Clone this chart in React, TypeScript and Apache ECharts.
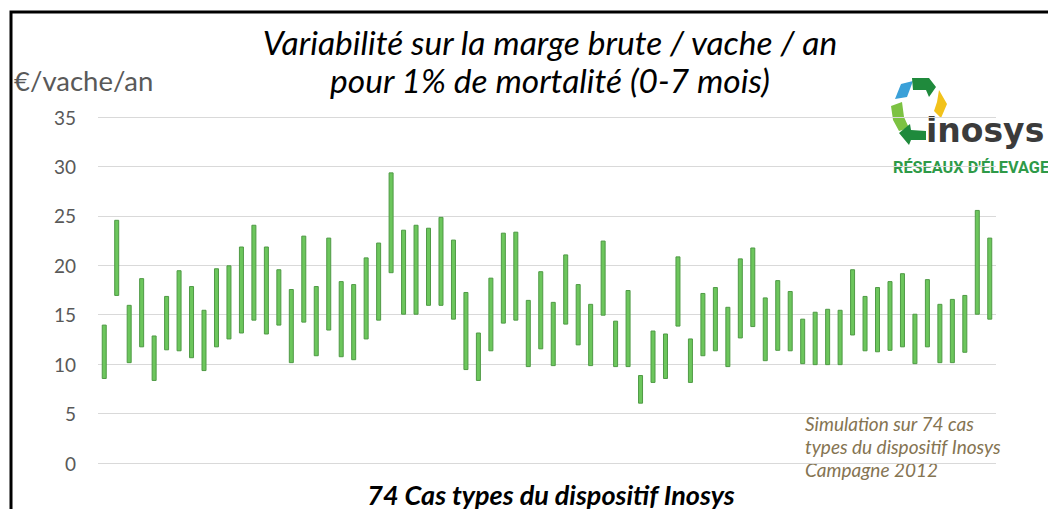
import React, { useEffect, useRef } from "react";
import * as echarts from "echarts";

const yTicks = [0, 5, 10, 15, 20, 25, 30, 35];
const lowValues = [
  8.5, 16.9, 10.1, 11.7, 8.3, 11.4, 11.3, 10.6, 9.3, 11.7,
  12.5, 13.1, 14.4, 13.0, 13.9, 10.1, 14.2, 10.8, 13.4, 10.7,
  10.4, 12.5, 14.4, 19.2, 15.0, 15.0, 15.9, 15.9, 14.5, 9.4,
  8.3, 11.3, 14.1, 14.4, 9.7, 11.5, 9.8, 14.0, 11.9, 9.8,
  14.9, 9.7, 9.7, 6.0, 8.1, 8.5, 13.8, 8.1, 10.8, 11.3,
  9.7, 12.6, 13.75, 10.3, 11.35, 11.3, 10.0, 9.9, 9.9, 9.9,
  12.9, 11.3, 11.2, 11.35, 11.7, 10.0, 11.7, 10.1, 10.1, 11.15,
  15.0, 14.5,
];
const highValues = [
  14.0, 24.6, 16.0, 18.7, 12.9, 16.9, 19.5, 17.9, 15.5, 19.7,
  20.0, 21.9, 24.1, 21.9, 19.6, 17.6, 23.0, 17.9, 22.8, 18.4,
  18.1, 20.8, 22.3, 29.4, 23.6, 24.1, 23.8, 24.9, 22.6, 17.3,
  13.2, 18.75, 23.3, 23.4, 16.5, 19.4, 16.3, 21.1, 18.1, 16.1,
  22.5, 14.4, 17.5, 8.9, 13.4, 13.1, 20.9, 12.6, 17.2, 17.8,
  15.8, 20.7, 21.8, 16.75, 18.5, 17.4, 14.6, 15.3, 15.6, 15.5,
  19.6, 16.9, 17.8, 18.4, 19.2, 15.1, 18.6, 16.1, 16.6, 17.0,
  25.6, 22.8,
];
const categories = lowValues.map((_, i) => "Cas " + (i + 1));
const titleLines = [
  "Variabilité sur la marge brute / vache / an",
  "pour 1% de mortalité (0-7 mois)",
];
const unitLabel = "€/vache/an";
const xTitle = "74 Cas types du dispositif Inosys";
const noteLines = [
  "Simulation sur 74 cas",
  "types du dispositif Inosys",
  "Campagne 2012",
];

const FONT = "Lato, 'Liberation Sans', sans-serif";

export default function App() {
  const ref = useRef<HTMLDivElement>(null);
  useEffect(() => {
    if (!ref.current) return;
    const chart = echarts.init(ref.current, null, { renderer: "svg" });
    const diff = highValues.map((h, i) => +(h - lowValues[i]).toFixed(2));
    chart.setOption({
      animation: false,
      backgroundColor: "#ffffff",
      grid: { left: 98, right: 52, top: 117, bottom: 46 },
      xAxis: {
        type: "category",
        data: categories,
        axisLine: { show: false },
        axisTick: { show: false },
        axisLabel: { show: false },
        splitLine: { show: false },
      },
      yAxis: {
        type: "value",
        min: yTicks[0],
        max: yTicks[yTicks.length - 1],
        interval: 5,
        axisLine: { show: false },
        axisTick: { show: false },
        axisLabel: {
          color: "#595959",
          fontSize: 19,
          fontFamily: FONT,
          margin: 22,
        },
        splitLine: { lineStyle: { color: "#d9d9d9", width: 1 } },
      },
      series: [
        {
          type: "bar",
          stack: "r",
          data: lowValues,
          barWidth: 5,
          itemStyle: { color: "transparent" },
          silent: true,
        },
        {
          type: "bar",
          stack: "r",
          data: diff,
          barWidth: 5,
          itemStyle: { color: "#6cc65c", borderColor: "#4f9a45", borderWidth: 1 },
        },
      ],
      graphic: [
        {
          type: "rect",
          shape: { x: 11, y: 12, width: 1100, height: 600 },
          style: { fill: "none", stroke: "#000", lineWidth: 3 },
        },
        {
          type: "text",
          x: 550,
          y: 42,
          style: {
            text: titleLines[0],
            fontSize: 33.5,
            fontStyle: "italic",
            fontFamily: FONT,
            fill: "#000",
            align: "center",
            verticalAlign: "middle",
          },
        },
        {
          type: "text",
          x: 550,
          y: 80,
          style: {
            text: titleLines[1],
            fontSize: 33.5,
            fontStyle: "italic",
            fontFamily: FONT,
            fill: "#000",
            align: "center",
            verticalAlign: "middle",
          },
        },
        {
          type: "text",
          x: 14,
          y: 80,
          style: {
            text: unitLabel,
            fontSize: 27.5,
            fontFamily: FONT,
            fill: "#595959",
            align: "left",
            verticalAlign: "middle",
          },
        },
        {
          type: "text",
          x: 551,
          y: 494,
          style: {
            text: xTitle,
            fontSize: 27,
            fontStyle: "italic",
            fontWeight: "bold",
            fontFamily: FONT,
            fill: "#000",
            align: "center",
            verticalAlign: "middle",
          },
        },
        ...noteLines.map((t, i) => ({
          type: "text",
          x: 805,
          y: 423 + i * 23,
          style: {
            text: t,
            fontSize: 19,
            fontStyle: "italic",
            fontFamily: FONT,
            fill: "#857452",
            align: "left",
            verticalAlign: "middle",
          },
        })),
        // logo
        {
          type: "group",
          children: [
            { type: "polygon", shape: { points: [[895, 99], [901, 84], [913, 81], [907, 97]] }, style: { fill: "#3aa0d8" } },
            { type: "polygon", shape: { points: [[912, 78], [929, 78], [936, 87], [929, 97], [926, 90], [913, 90]] }, style: { fill: "#1f8a3c" } },
            { type: "polygon", shape: { points: [[939, 90], [947, 104], [941, 118], [934, 111], [937, 102]] }, style: { fill: "#f2c21b" } },
            { type: "polygon", shape: { points: [[891, 106], [902, 102], [904, 117], [909, 128], [899, 131], [893, 120]] }, style: { fill: "#7cc242" } },
            { type: "polygon", shape: { points: [[899, 133], [910, 124], [911, 130], [926, 131], [926, 140], [911, 140], [909, 145]] }, style: { fill: "#1f8a3c" } },
          ],
        },
        {
          type: "text",
          x: 926,
          y: 130,
          style: {
            text: "inosys",
            fontSize: 33,
            fontWeight: "bold",
            fontFamily: "'DejaVu Sans', sans-serif",
            fill: "#3b3b3b",
            align: "left",
            verticalAlign: "middle",
          },
        },
        {
          type: "text",
          x: 893,
          y: 167,
          style: {
            text: "RÉSEAUX D'ÉLEVAGE",
            fontSize: 16.3,
            fontWeight: "bold",
            fontFamily: "Roboto, sans-serif",
            fill: "#2e9a48",
            align: "left",
            verticalAlign: "middle",
          },
        },
      ],
    });
    return () => chart.dispose();
  }, []);
  return <div ref={ref} style={{ width: 1048, height: 509, position: "absolute", left: 0, top: 0 }} />;
}
